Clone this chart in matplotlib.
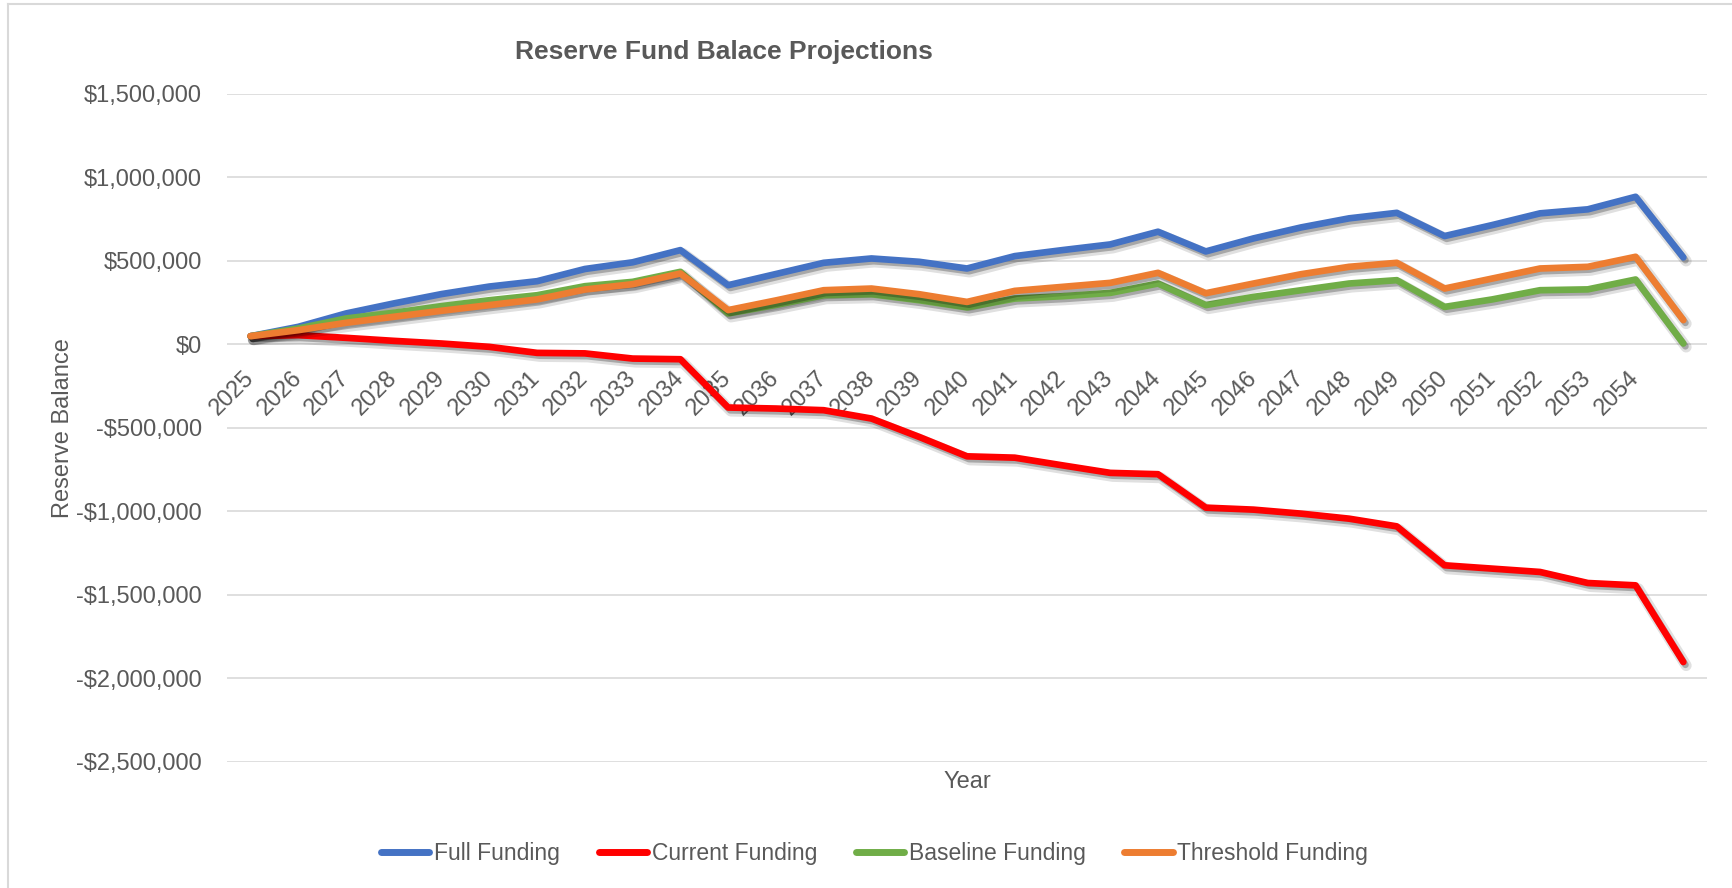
import matplotlib
matplotlib.use("Agg")
import matplotlib.pyplot as plt
import matplotlib.patheffects as pe
from matplotlib.ticker import FuncFormatter, MultipleLocator

plt.rcParams["font.family"] = ["Liberation Sans Narrow", "Liberation Sans", "DejaVu Sans"]

# data
years = ["2025", "2026", "2027", "2028", "2029", "2030", "2031", "2032", "2033", "2034",
         "2035", "2036", "2037", "2038", "2039", "2040", "2041", "2042", "2043", "2044",
         "2045", "2046", "2047", "2048", "2049", "2050", "2051", "2052", "2053", "2054", ""]

full_funding = [48000, 104000, 184000, 244000, 300000, 345000, 377000, 450000, 490000, 563000,
                353000, 420000, 487000, 513000, 493000, 453000, 527000, 563000, 597000, 673000,
                555000, 633000, 699000, 753000, 786000, 647000, 713000, 783000, 807000, 882000,
                519000]
current_funding = [48000, 54000, 38000, 20000, 4000, -16000, -52000, -55000, -86000, -90000,
                   -379000, -385000, -395000, -445000, -555000, -671000, -679000, -725000, -770000, -778000,
                   -978000, -990000, -1014000, -1044000, -1090000, -1323000, -1343000, -1363000, -1429000, -1443000,
                   -1902000]
baseline_funding = [48000, 94000, 154000, 188000, 228000, 263000, 293000, 347000, 373000, 433000,
                    184000, 235000, 293000, 299000, 263000, 220000, 273000, 287000, 307000, 363000,
                    234000, 283000, 323000, 363000, 383000, 223000, 268000, 323000, 328000, 387000,
                    4000]
threshold_funding = [48000, 84000, 128000, 164000, 200000, 234000, 268000, 327000, 359000, 423000,
                     204000, 262000, 323000, 333000, 299000, 253000, 319000, 343000, 367000, 427000,
                     305000, 363000, 419000, 463000, 487000, 333000, 393000, 453000, 463000, 523000,
                     144000]

series = [
    ("Full Funding", full_funding, "#4472C4"),
    ("Current Funding", current_funding, "#FF0000"),
    ("Baseline Funding", baseline_funding, "#70AD47"),
    ("Threshold Funding", threshold_funding, "#ED7D31"),
]

text_color = "#595959"
grid_color = "#D9D9D9"

fig = plt.figure(figsize=(17.32, 8.88), dpi=100)
ax = fig.add_axes([0.1309, 0.1419, 0.8548, 0.7528])

x = list(range(len(years)))
# soft drop shadow like the Excel line effect
shadow = [pe.SimpleLineShadow(offset=(2, -2.5), shadow_color="black", alpha=0.12, linewidth=8),
          pe.SimpleLineShadow(offset=(1.5, -2), shadow_color="black", alpha=0.25),
          pe.Normal()]
for name, vals, color in series:
    ax.plot(x, vals, color=color, lw=4.8, label=name,
            solid_joinstyle="round", solid_capstyle="round", path_effects=shadow)

ax.set_xlim(-0.5, len(years) - 0.5)
ax.set_ylim(-2500000, 1500000)
ax.yaxis.set_major_locator(MultipleLocator(500000))
ax.yaxis.set_major_formatter(FuncFormatter(
    lambda v, p: "$0" if v == 0 else ("-" if v < 0 else "") + "${:,.0f}".format(abs(v))))
ax.grid(axis="y", color=grid_color, lw=1.2)
ax.set_axisbelow(True)

for s in ["left", "right", "top"]:
    ax.spines[s].set_visible(False)
ax.spines["bottom"].set_position(("data", 0))
ax.spines["bottom"].set_color("none")

ax.set_xticks(x)
ax.set_xticklabels(years, rotation=45, ha="right", va="center", rotation_mode="anchor")
ax.tick_params(axis="x", length=0, pad=22, labelsize=17, labelcolor=text_color)
ax.tick_params(axis="y", length=0, pad=18, labelsize=17, labelcolor=text_color)

fig.text(0.4177, 0.9332, "Reserve Fund Balace Projections", ha="center", va="baseline",
         fontsize=19, fontweight="bold", color=text_color)
fig.text(0.0365, 0.518, "Reserve Balance", rotation=90, ha="center", va="center",
         fontsize=17, color=text_color)
fig.text(0.5583, 0.1194, "Year", ha="center", va="center", fontsize=17, color=text_color)

leg = fig.legend(loc="center", bbox_to_anchor=(0.505, 0.0383), ncol=4, frameon=False,
                 fontsize=16.5, handlelength=2.1, handletextpad=0.2, columnspacing=1.7)
for t in leg.get_texts():
    t.set_color(text_color)
for h in leg.legend_handles:
    h.set_linewidth(5)
    h.set_path_effects([])

# chart border (left and top visible in the reference)
fig.add_artist(plt.Line2D([8 / 1732, 8 / 1732], [0, 1 - 4 / 888], transform=fig.transFigure,
                          color=grid_color, lw=1.5))
fig.add_artist(plt.Line2D([8 / 1732, 1], [1 - 4 / 888, 1 - 4 / 888], transform=fig.transFigure,
                          color=grid_color, lw=1.5))

fig.savefig("out.png", dpi=100)
